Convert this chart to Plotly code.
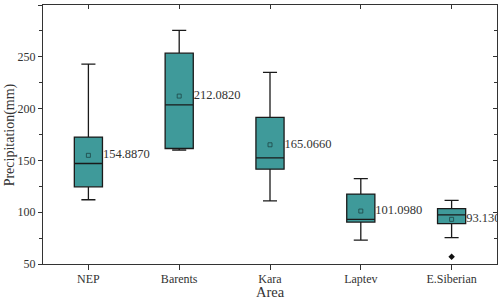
import plotly.graph_objects as go

areas = ["NEP", "Barents", "Kara", "Laptev", "E.Siberian"]
lower = [112, 160, 111, 73, 75.5]
q1 = [124.5, 161.5, 141.5, 90.5, 89]
median = [147, 203.5, 152.5, 93, 97.5]
q3 = [172.5, 253.5, 191.5, 117.5, 103.5]
upper = [243, 275.5, 235, 132.5, 111.5]
means = [154.887, 212.082, 165.066, 101.098, 93.13]
mean_labels = ["154.8870", "212.0820", "165.0660", "101.0980", "93.1300"]
outlier_area = ["E.Siberian"]
outlier_val = [57]
y_ticks = [50, 100, 150, 200, 250, 300]

FONT = "Liberation Serif"
pos = list(range(len(areas)))
BOX_W = 0.31
label_x = [p + BOX_W / 2 + 0.005 for p in pos]
out_x = [areas.index(a) for a in outlier_area]

fig = go.Figure()
fig.add_trace(go.Box(
    x=pos, q1=q1, median=median, q3=q3, lowerfence=lower, upperfence=upper,
    width=BOX_W, whiskerwidth=0.5,
    fillcolor="#3f9a9a", line=dict(color="#1a1a1a", width=1.3),
    boxpoints=False, showlegend=False, hoverinfo="skip",
))
fig.add_trace(go.Scatter(
    x=pos, y=means, mode="markers", showlegend=False,
    marker=dict(symbol="square-open", size=4, color="#1d4545", line=dict(width=0.8)),
))
fig.add_trace(go.Scatter(
    x=label_x, y=means, mode="text", text=mean_labels, textposition="middle right",
    textfont=dict(family=FONT, size=12.5, color="#333"), cliponaxis=True, showlegend=False,
))
fig.add_trace(go.Scatter(
    x=out_x, y=outlier_val, mode="markers", showlegend=False,
    marker=dict(symbol="diamond", size=5, color="#111"),
))

axis_common = dict(linecolor="#333", linewidth=1.2, tickcolor="#333", showgrid=False,
                   zeroline=False, automargin=False)
fig.update_layout(
    width=498, height=300, margin=dict(l=43, r=1, t=5, b=36),
    paper_bgcolor="white", plot_bgcolor="white",
    font=dict(family=FONT, size=12, color="#333"),
    xaxis=dict(**axis_common, range=[-0.5, 4.5], tickvals=pos, ticktext=areas,
               showline=True, mirror=True, ticks="outside", ticklen=5,
               ticklabelstandoff=-2, tickfont=dict(size=12)),
    yaxis=dict(**axis_common, range=[50, 300], tickvals=y_ticks,
               showline=True, mirror=True, ticks="outside", ticklen=4,
               minor=dict(ticks="outside", ticklen=2.5, tickcolor="#333", dtick=25, tick0=0),
               tickfont=dict(size=12)),
    xaxis2=dict(**axis_common, overlaying="x", side="top", anchor="y", range=[-0.5, 4.5],
                ticks="inside", ticklen=4, showticklabels=False, tickvals=pos),
    yaxis2=dict(**axis_common, overlaying="y", side="right", anchor="x", range=[50, 300],
                ticks="inside", ticklen=4, showticklabels=False, tickvals=y_ticks,
                minor=dict(ticks="inside", ticklen=2.5, tickcolor="#333", dtick=25, tick0=0)),
    annotations=[
        dict(text="Area", xref="paper", yref="paper", x=0.5, y=-0.108, showarrow=False,
             xanchor="center", yanchor="middle", font=dict(size=14.5, family=FONT, color="#333")),
        dict(text="Precipitation(mm)", xref="paper", yref="paper", x=-0.073, y=0.5,
             showarrow=False, textangle=-90, xanchor="center", yanchor="middle",
             font=dict(size=14, family=FONT, color="#333")),
    ],
)
fig.add_trace(go.Scatter(x=[pos[0]], y=[None], xaxis="x2", yaxis="y2", showlegend=False,
                         hoverinfo="skip"))
fig.write_html("out.html", config={"displayModeBar": False},
               post_script="document.body.style.margin='0';document.body.style.overflow='hidden';")
